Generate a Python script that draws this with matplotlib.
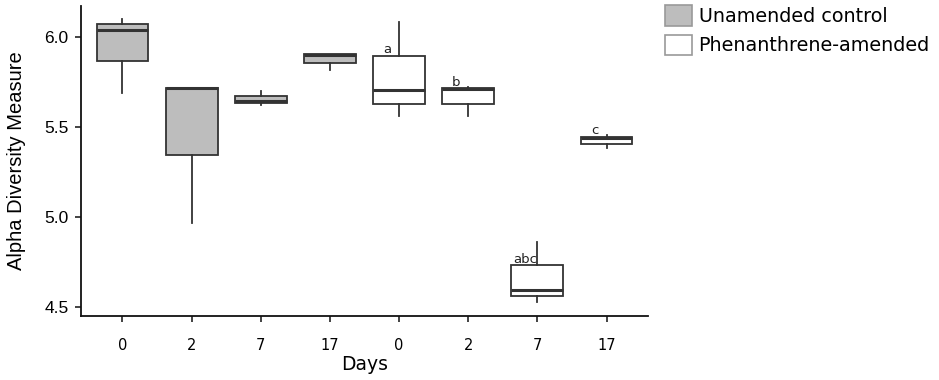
import matplotlib
matplotlib.use("Agg")
import matplotlib.pyplot as plt
from matplotlib.patches import Patch

# ---- data ----
day_labels = ["0", "2", "7", "17", "0", "2", "7", "17"]
treatment = ["Unamended control"] * 4 + ["Phenanthrene-amended"] * 4
whisker_low = [5.689, 4.970, 5.624, 5.818, 5.559, 5.562, 4.531, 5.383]
box_low = [5.863, 5.342, 5.633, 5.856, 5.628, 5.628, 4.563, 5.405]
median = [6.037, 5.715, 5.642, 5.898, 5.703, 5.708, 4.596, 5.439]
box_high = [6.068, 5.717, 5.670, 5.902, 5.892, 5.714, 4.733, 5.446]
whisker_high = [6.096, 5.717, 5.698, 5.902, 6.081, 5.721, 4.864, 5.453]
sig_labels = ["", "", "", "", "a", "b", "abc", "c"]
y_ticks = [4.5, 5.0, 5.5, 6.0]
y_tick_labels = ["4.5", "5.0", "5.5", "6.0"]

colors = {"Unamended control": "#bdbdbd", "Phenanthrene-amended": "#ffffff"}
edge = "#333333"

fig = plt.figure(figsize=(9.39, 3.8), dpi=100)
ax = fig.add_axes([81 / 939, 1 - 316 / 380, (648 - 81) / 939, (316 - 6) / 380])

positions = list(range(1, len(day_labels) + 1))
stats = []
for i in range(len(day_labels)):
    stats.append(dict(whislo=whisker_low[i], q1=box_low[i], med=median[i],
                      q3=box_high[i], whishi=whisker_high[i], fliers=[]))

bp = ax.bxp(stats, positions=positions, widths=0.75, patch_artist=True,
            showcaps=False, showfliers=False,
            boxprops=dict(edgecolor=edge, linewidth=1.3),
            whiskerprops=dict(color=edge, linewidth=1.3),
            medianprops=dict(color=edge, linewidth=2.2))
for patch, t in zip(bp["boxes"], treatment):
    patch.set_facecolor(colors[t])

for p, lab, top in zip(positions, sig_labels, box_high):
    if lab:
        ax.annotate(lab, xy=(p - 0.17, top), xytext=(0, 2), textcoords="offset points",
                    ha="center", va="baseline", fontsize=9.5, color="#222222",
                    family="DejaVu Sans")

ax.set_xlim(0.4, 8.6)
ax.set_ylim(4.452, 6.17)
ax.set_xticks(positions)
ax.set_xticklabels(day_labels, fontsize=10.5, family="DejaVu Sans")
ax.set_yticks(y_ticks)
ax.set_yticklabels(y_tick_labels, fontsize=12.5, family="Liberation Sans")
ax.tick_params(direction="out", length=4, width=1.2, color="#222222")
ax.tick_params(axis="x", pad=12)
ax.tick_params(axis="y", pad=5)
for s in ["top", "right"]:
    ax.spines[s].set_visible(False)
for s in ["left", "bottom"]:
    ax.spines[s].set_linewidth(1.3)
    ax.spines[s].set_color("#111111")

ax.set_xlabel("Days", fontsize=13.5, family="DejaVu Sans", labelpad=1)
ax.set_ylabel("Alpha Diversity Measure", fontsize=14.5, family="Liberation Sans", labelpad=13)

handles = [Patch(facecolor=colors[t], edgecolor="#999999", linewidth=1.2, label=t)
           for t in ["Unamended control", "Phenanthrene-amended"]]
fig.legend(handles=handles, loc="upper left", bbox_to_anchor=(665 / 939, 1 - 5 / 380),
           frameon=False, handlelength=1.4, handleheight=1.3,
           handletextpad=0.35, labelspacing=0.45, borderpad=0, borderaxespad=0,
           prop={"family": "DejaVu Sans", "size": 13.8})

fig.savefig("out.png", dpi=100)
